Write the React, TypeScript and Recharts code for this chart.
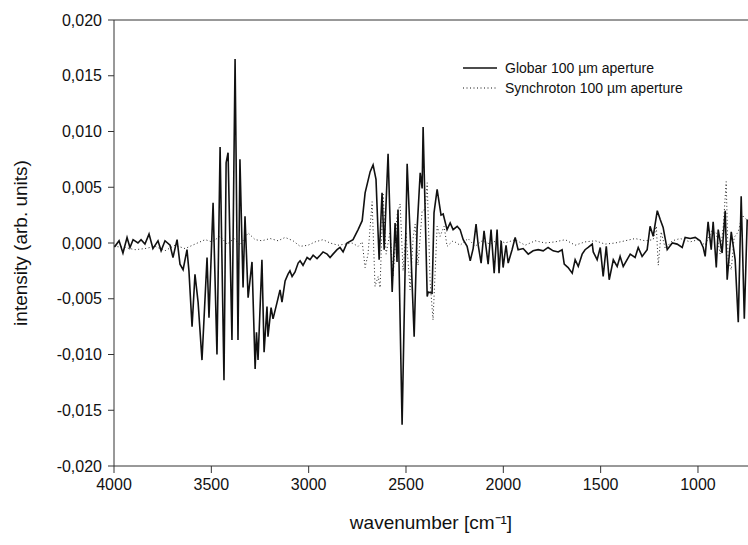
import React from "react";
import {
  LineChart,
  Line,
  XAxis,
  YAxis,
  ReferenceLine,
} from "recharts";

// wavenumber positions (cm-1) for the Globar trace
const globarWn = [
  4000, 3995, 3974, 3954, 3933, 3918, 3902, 3877, 3861, 3841, 3820, 3800, 3774, 3758,
  3738, 3712, 3697, 3676, 3661, 3645, 3625, 3615, 3599, 3584, 3568, 3548, 3522, 3512,
  3491, 3471, 3455, 3435, 3424, 3414, 3394, 3378, 3363, 3353, 3337, 3327, 3311, 3291,
  3275, 3268, 3260, 3240, 3229, 3214, 3209, 3193, 3183, 3162, 3147, 3137, 3121, 3106,
  3096, 3085, 3070, 3054, 3044, 3029, 3008, 2993, 2977, 2957, 2941, 2926, 2905, 2890,
  2875, 2854, 2839, 2823, 2803, 2772, 2746, 2725, 2710, 2684,
  2669, 2654, 2638, 2623, 2612, 2592, 2571, 2556, 2546, 2541, 2520, 2494, 2474, 2458,
  2443, 2427, 2417, 2412, 2391, 2386, 2366, 2356, 2340, 2320, 2309, 2289, 2273, 2258,
  2237, 2222, 2206, 2186, 2170, 2155, 2140, 2129, 2114, 2099, 2078, 2063, 2047, 2032,
  2022, 2011, 2001, 1986, 1975, 1955, 1939, 1924, 1898, 1872, 1847, 1821, 1795, 1770,
  1744, 1718, 1698, 1687, 1667, 1646, 1631, 1615, 1595, 1580, 1564, 1543, 1538, 1518,
  1502, 1487, 1471, 1456, 1435, 1415, 1400, 1384, 1348, 1323, 1307, 1287, 1261, 1246,
  1230, 1209, 1194, 1179, 1158, 1132, 1107, 1081, 1066, 1040, 1014, 989, 973, 963,
  948, 932, 922, 906, 896, 876, 860, 850, 829, 809, 793, 778, 762, 747,
];
const globarVal = [
  -0.0003, -0.0003, 0.0002, -0.0009, 0.0005, -0.0004, 0.0003, 0.0, 0.0003, -0.0001, 0.0008, -0.0005, 0.0002, -0.0007,
  0.0002, -0.0002, -0.0013, 0.0003, -0.0019, -0.0024, -0.0006, -0.0025, -0.0075, -0.0028, -0.0053, -0.0105, -0.0013, -0.0067,
  0.0036, -0.01, 0.0086, -0.0123, 0.0072, 0.0081, -0.0087, 0.0165, -0.0087, 0.0075, -0.004, 0.0024, -0.0049, -0.0017,
  -0.0113, -0.008, -0.0105, -0.0015, -0.0098, -0.0057, -0.0084, -0.0058, -0.0068, -0.0053, -0.0042, -0.0053, -0.0034, -0.0028,
  -0.0025, -0.003, -0.0026, -0.0018, -0.0016, -0.002, -0.0013, -0.0015, -0.0011, -0.0014, -0.0011, -0.0008, -0.001, -0.0013,
  -0.001, -0.0006, -0.0004, -0.0008, 0.0, 0.0003, 0.0012, 0.002, 0.0045, 0.0064,
  0.007, 0.0057, -0.0015, 0.0045, -0.0006, 0.008, -0.0044, 0.0018, -0.0017, 0.003, -0.0163, 0.0071, -0.0012, -0.0084,
  0.0012, 0.0063, 0.0049, 0.0104, -0.0048, -0.0044, -0.0045, 0.0027, 0.0048, 0.0025, 0.0026, 0.0012, 0.0018, 0.0012,
  0.0015, 0.0012, 0.0003, -0.0003, -0.0016, -0.0005, 0.0017, -0.0002, -0.0018, 0.0011, -0.0019, 0.0012, -0.0027, 0.0012,
  -0.0027, 0.0002, -0.0022, -0.0002, -0.0018, -0.0006, 0.0005, -0.0006, -0.0005, -0.001, -0.0007, -0.0006, -0.0007, -0.0004,
  -0.0007, -0.0008, -0.0006, -0.0019, -0.0022, -0.0027, -0.0015, -0.0021, -0.001, -0.0006, -0.0004, -0.0001, -0.0008, -0.0015,
  -0.0004, -0.003, -0.0003, -0.0033, -0.0015, -0.0021, -0.0012, -0.0021, -0.001, -0.0013, -0.0004, -0.0012, -0.0006, 0.0015,
  0.0006, 0.0029, 0.0021, 0.0014, -0.0006, 0.0, -0.0001, -0.0004, 0.0005, 0.0004, 0.0005, 0.0002, -0.0004, -0.0012,
  0.0019, -0.0006, 0.0019, -0.0022, 0.0012, -0.0009, 0.0029, -0.0033, 0.001, -0.0015, -0.0071, 0.0042, -0.0068, 0.0021,
];

// Synchrotron trace
const synchWn = [
  4000, 3943, 3892, 3841, 3789, 3738, 3687, 3635, 3584, 3532, 3496, 3455, 3419, 3383,
  3353, 3311, 3275, 3240, 3198, 3157, 3121, 3080, 3044, 3003, 2967, 2926, 2890, 2849,
  2813, 2777, 2746, 2725, 2710, 2695, 2674, 2659, 2643, 2633, 2618, 2602, 2582, 2566,
  2546, 2530, 2515, 2500, 2479, 2463, 2453, 2438, 2417, 2402, 2391, 2376, 2361, 2340,
  2325, 2304, 2289, 2258, 2222, 2181, 2145, 2109, 2068, 2027, 1991, 1939, 1888, 1836,
  1785, 1734, 1682, 1631, 1580, 1528, 1477, 1425, 1374, 1323, 1272, 1230, 1214, 1204,
  1189, 1168, 1132, 1091, 1040, 999, 963, 927, 906, 886, 870, 855, 845, 829,
  814, 793, 773, 757, 742,
];
const synchVal = [
  -0.0003, -0.0004, -0.0006, -0.0005, -0.0003, -0.0007, -0.0002, -0.0005, -0.0001, 0.0003, 0.0001, 0.0006, -0.0001, 0.0004,
  -0.0002, 0.0009, 0.0003, 0.0002, 0.0004, 0.0002, 0.0005, 0.0002, -0.0003, -0.0002, 0.0001, 0.0003, 0.0, -0.0002,
  -0.0001, 0.0, -0.0003, 0.0001, -0.0022, -0.001, 0.0037, -0.0039, -0.003, -0.004, 0.0045, -0.001, 0.001, -0.003,
  0.0025, 0.0035, -0.0025, 0.001, -0.0042, 0.0005, 0.0017, -0.002, 0.0029, 0.003, 0.0054, -0.0035, -0.0069, 0.0015,
  0.0006, 0.0015, -0.0003, 0.0002, -0.0002, 0.0004, -0.0003, 0.0002, -0.0001, 0.0003, 0.0, 0.0003, -0.0002, 0.0002,
  0.0, 0.0001, 0.0003, -0.0002, 0.0001, 0.0002, -0.0001, 0.0, 0.0002, 0.0004, 0.0002, 0.0003, 0.0015, -0.002,
  0.001, -0.0005, 0.0002, 0.0004, 0.0001, 0.0003, -0.0002, 0.0012, 0.0009, -0.001, 0.0015, 0.0055, -0.0015, -0.0024,
  0.0005, 0.001, 0.0025, 0.0022, 0.002,
];

const xTicks = [4000, 3500, 3000, 2500, 2000, 1500, 1000];
const yTicks = [-0.02, -0.015, -0.01, -0.005, 0, 0.005, 0.01, 0.015, 0.02];

const globar = globarWn.map((wn, i) => ({ wn, v: globarVal[i] }));
const synch = synchWn.map((wn, i) => ({ wn, v: synchVal[i] }));

const font = "'Liberation Sans', Arial, sans-serif";

const fmtY = (v: number) => v.toFixed(3).replace(".", ",");

// legend sits inside the plot, top right
function LegendBox() {
  return (
    <div
      style={{
        position: "absolute",
        left: 463,
        top: 58,
        fontFamily: font,
        fontSize: 14,
        color: "#111",
        lineHeight: "20px",
      }}
    >
      <div style={{ display: "flex", alignItems: "center" }}>
        <svg width={42} height={10}>
          <line x1={0} y1={5} x2={34} y2={5} stroke="#111" strokeWidth={1.5} />
        </svg>
        Globar 100 µm aperture
      </div>
      <div style={{ display: "flex", alignItems: "center" }}>
        <svg width={42} height={10}>
          <line x1={0} y1={5} x2={34} y2={5} stroke="#111" strokeWidth={1} strokeDasharray="1 2.5" />
        </svg>
        Synchroton 100 µm aperture
      </div>
    </div>
  );
}

export default function App() {
  return (
    <div style={{ position: "absolute", left: 0, top: 0, width: 748, height: 545, background: "#fff" }}>
      <LineChart
        width={748}
        height={545}
        margin={{ top: 20, right: 0, left: 0, bottom: 0 }}
      >
        <XAxis
          dataKey="wn"
          type="number"
          domain={[743, 4000]}
          reversed
          ticks={xTicks}
          allowDataOverflow
          height={79}
          stroke="#333"
          tickSize={7}
          tickMargin={6}
          tick={{ fill: "#111", fontSize: 16, fontFamily: font }}
          label={{
            value: "wavenumber [cm⁻¹]",
            position: "insideBottom",
            offset: 16,
            style: { fill: "#111", fontSize: 19, fontFamily: font },
          }}
        />
        <YAxis
          type="number"
          domain={[-0.02, 0.02]}
          ticks={yTicks}
          allowDataOverflow
          width={114}
          stroke="#333"
          tickSize={6}
          tickMargin={6}
          tickFormatter={fmtY}
          tick={{ fill: "#111", fontSize: 16, fontFamily: font }}
          label={{
            value: "intensity (arb. units)",
            angle: -90,
            position: "insideLeft",
            offset: 20,
            style: { textAnchor: "middle", fill: "#111", fontSize: 19, fontFamily: font },
          }}
        />
        <ReferenceLine y={0.02} stroke="#333" />
        <Line
          data={synch}
          dataKey="v"
          type="linear"
          stroke="#222"
          strokeWidth={1}
          strokeDasharray="1 2.5"
          dot={false}
          isAnimationActive={false}
        />
        <Line
          data={globar}
          dataKey="v"
          type="linear"
          stroke="#111"
          strokeWidth={1.6}
          dot={false}
          isAnimationActive={false}
        />
      </LineChart>
      <LegendBox />
    </div>
  );
}
